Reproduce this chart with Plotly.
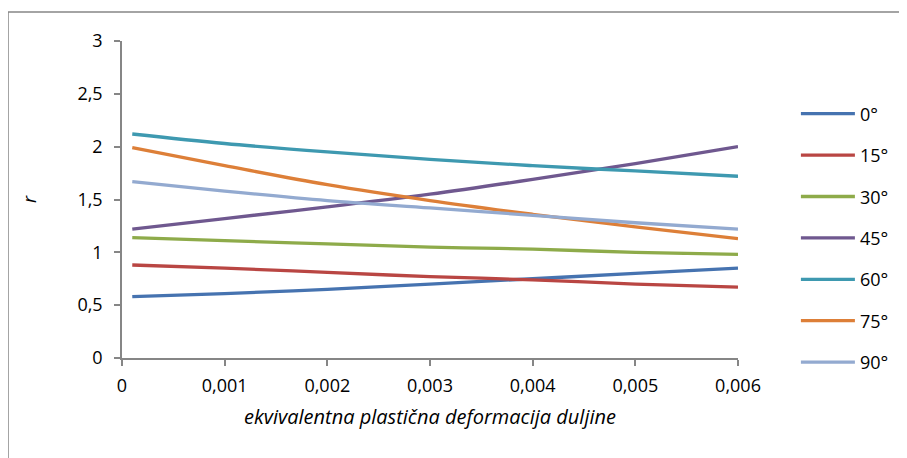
import plotly.graph_objects as go

# strain values (x) at which r was read
strain = [0.0001, 0.001, 0.002, 0.003, 0.004, 0.005, 0.006]

series_names = ["0°", "15°", "30°", "45°", "60°", "75°", "90°"]
r_0 = [0.58, 0.61, 0.65, 0.70, 0.75, 0.80, 0.85]
r_15 = [0.88, 0.85, 0.81, 0.77, 0.74, 0.70, 0.67]
r_30 = [1.14, 1.11, 1.08, 1.05, 1.03, 1.00, 0.98]
r_45 = [1.22, 1.32, 1.43, 1.55, 1.69, 1.84, 2.00]
r_60 = [2.12, 2.03, 1.95, 1.88, 1.82, 1.77, 1.72]
r_75 = [1.99, 1.82, 1.64, 1.49, 1.36, 1.24, 1.13]
r_90 = [1.67, 1.58, 1.49, 1.42, 1.35, 1.28, 1.22]
series_values = [r_0, r_15, r_30, r_45, r_60, r_75, r_90]

colors = ["#4673B0", "#B94643", "#8EAB4A", "#6F588F", "#3E99B0", "#DD7F38", "#93AAD0"]

x_tickvals = [0, 0.001, 0.002, 0.003, 0.004, 0.005, 0.006]
x_ticktext = ["0", "0,001", "0,002", "0,003", "0,004", "0,005", "0,006"]
y_tickvals = [0, 0.5, 1, 1.5, 2, 2.5, 3]
y_ticktext = ["0", "0,5", "1", "1,5", "2", "2,5", "3"]

FONT = "Open Sans"
FS = 18

fig = go.Figure()
for name, vals, col in zip(series_names, series_values, colors):
    fig.add_trace(go.Scatter(
        x=strain, y=vals, name=name, mode="lines",
        line=dict(color=col, width=3.3, shape="spline"),
        legendgroup=name,
    ))

fig.update_layout(
    width=907, height=458,
    margin=dict(l=114, r=177, t=33, b=108),
    paper_bgcolor="white", plot_bgcolor="white",
    font=dict(family=FONT, size=FS, color="#000000"),
    showlegend=True,
    legend=dict(
        x=1.094, y=0.828, xanchor="left", yanchor="top",
        font=dict(family=FONT, size=FS, color="#000000"),
        tracegroupgap=15, bgcolor="rgba(0,0,0,0)", itemwidth=54,
    ),
    xaxis=dict(
        range=[0, 0.006], tickvals=x_tickvals, ticktext=x_ticktext,
        showgrid=False, zeroline=False,
        showline=True, linecolor="#868686", linewidth=1.5,
        ticks="outside", ticklen=6, tickcolor="#868686", tickwidth=1.5,
        ticklabelstandoff=5,
        tickfont=dict(family=FONT, size=FS),
        title=dict(text="<i>ekvivalentna plastična deformacija duljine</i>",
                   font=dict(family=FONT, size=20), standoff=14),
    ),
    yaxis=dict(
        range=[0, 3], tickvals=y_tickvals, ticktext=y_ticktext,
        showgrid=False, zeroline=False,
        showline=True, linecolor="#868686", linewidth=1.5,
        ticks="outside", ticklen=6, tickcolor="#868686", tickwidth=1.5,
        ticklabelstandoff=8,
        tickfont=dict(family=FONT, size=FS),
        title=dict(text="<i>r</i>", font=dict(family=FONT, size=FS), standoff=36),
    ),
    shapes=[dict(
        type="rect", xref="paper", yref="paper",
        x0=(0 - 114) / 616, x1=2.0, y0=-1.0, y1=(350 - 4) / 317,
        line=dict(color="#868686", width=1.5), fillcolor="rgba(0,0,0,0)",
        layer="below",
    )],
)

fig.write_html("out.html")
